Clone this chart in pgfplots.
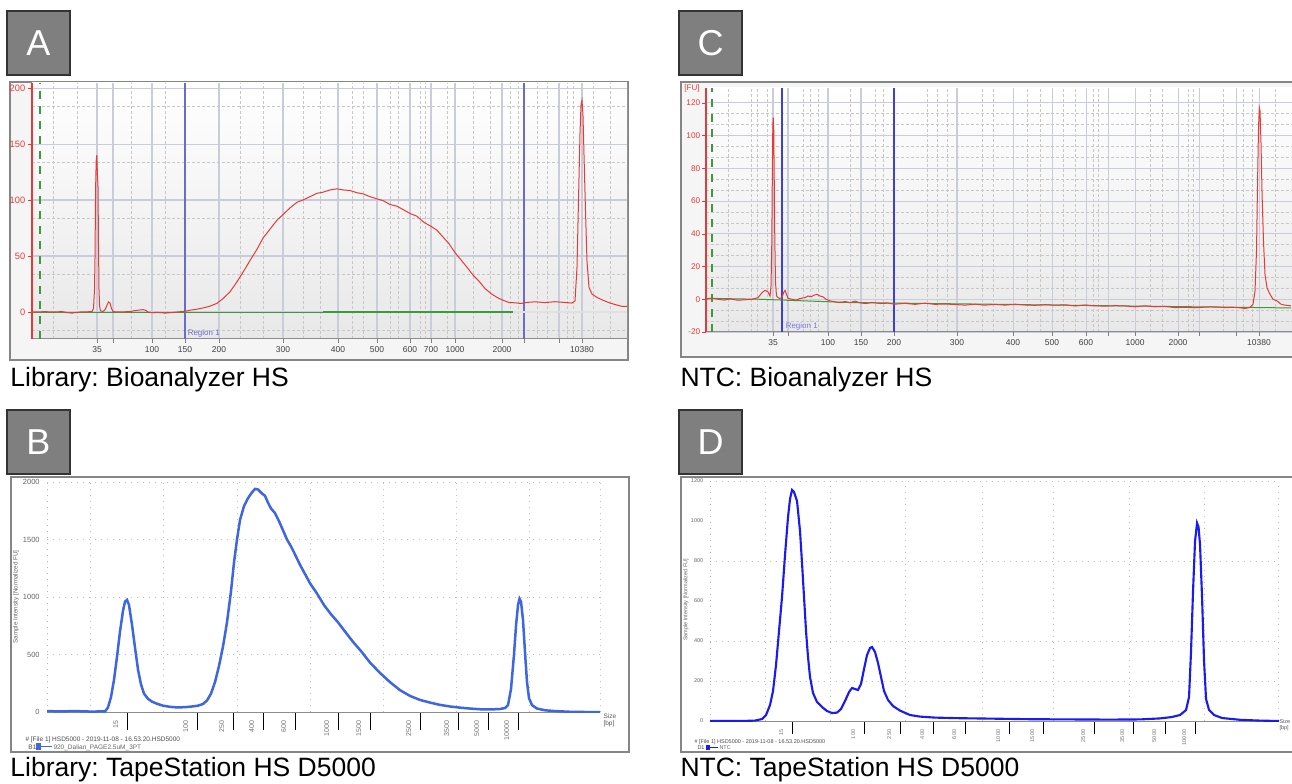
\documentclass[border=0pt]{standalone}
\usepackage{fontspec}
\setmainfont{Liberation Sans}
\usepackage{pgfplots}
\pgfplotsset{compat=1.18}
\frenchspacing

\definecolor{boxgray}{HTML}{7F7F7F}
\definecolor{framegray}{HTML}{858585}
\definecolor{bagrid}{HTML}{C9CDDA}
\definecolor{bared}{HTML}{E53A3A}
\definecolor{bagreen}{HTML}{3C9A3C}
\definecolor{regblueA}{HTML}{6B6BC8}
\definecolor{regblueC}{HTML}{3F3FD6}
\definecolor{tsblue}{HTML}{3D66E0}
\definecolor{tsblueD}{HTML}{1A1AF2}

\def\HH{783}

\pgfplotsset{
  % bioanalyzer look
  ba/.style={scale only axis, anchor=north west,
    axis background/.style={top color=white, bottom color=black!9},
    axis x line*=bottom, axis y line*=left,
    x axis line style={black!45}, y axis line style={bared, line width=0.5pt},
    grid=both, major grid style={bagrid, line width=0.42pt},
    minor grid style={black!22, dash pattern=on 1pt off 1pt, line width=0.3pt},
    tick align=outside, major tick length=1.6pt, minor tick length=0pt,
    every x tick/.style={black!50}, every y tick/.style={bared},
    xticklabel style={font=\fontsize{3.4}{4}\selectfont, text=black!75},
    yticklabel style={font=\fontsize{3.7}{4}\selectfont, text=bared},
    xticklabel shift=-2pt, yticklabel shift=-2.4pt,
    /pgf/number format/assume math mode=true,
    /pgf/number format/1000 sep={}},
  % tapestation look
  ts/.style={scale only axis, anchor=north west,
    axis x line*=bottom, axis y line*=left,
    x axis line style={black!45}, y axis line style={black!30, dotted},
    xminorgrids=true, ymajorgrids=false, xmajorgrids=false, yminorgrids=true,
    minor grid style={black!25, dotted, line width=0.35pt},
    tick align=outside, major tick length=7pt, minor tick length=0pt,
    every x tick/.style={black, line width=0.4pt}, every y tick/.style={draw=none},
    xticklabel style={font=\fontsize{2.8}{3}\selectfont, text=black!55, rotate=90, anchor=south east},
    xticklabel shift=-7pt, yticklabel shift=-7.6pt,
    yticklabel style={font=\fontsize{3}{3.5}\selectfont, text=black!60},
    /pgf/number format/assume math mode=true,
    /pgf/number format/1000 sep={}},
}

\begin{document}
\begin{tikzpicture}[x=0.4pt, y=0.4pt]
\useasboundingbox (0,0) rectangle (1292,783);

% panel frames
\draw[framegray, line width=0.9pt, fill=black!4] (10,\HH-82) rectangle (628,\HH-360);
\draw[framegray, line width=0.9pt, fill=black!4] (681,\HH-82) rectangle (1310,\HH-357);
\draw[framegray, line width=0.9pt, fill=white] (11,\HH-477) rectangle (629,\HH-752);
\draw[framegray, line width=0.9pt, fill=white] (681,\HH-477) rectangle (1310,\HH-752);

% letter boxes
\foreach \lx/\ly/\lt in {7/11/A, 679/11/C, 7/410/B, 679/410/D}{
  \draw[black!80, line width=0.5pt, fill=boxgray] (\lx,\HH-\ly) rectangle ++(63,-64);
  \node[text=white, font=\fontsize{14.4}{15}\selectfont] at (\lx+31.5,\HH-\ly-32) {\lt};
}

% titles
\node[anchor=base west, inner sep=0, font=\fontsize{10.6}{11}\selectfont] at (10,\HH-386) {Library: Bioanalyzer HS};
\node[anchor=base west, inner sep=0, font=\fontsize{10.6}{11}\selectfont] at (680,\HH-386) {NTC: Bioanalyzer HS};
\node[anchor=base west, inner sep=0, font=\fontsize{10.6}{11}\selectfont] at (10,\HH-776) {Library: TapeStation HS D5000};
\node[anchor=base west, inner sep=0, font=\fontsize{10.6}{11}\selectfont] at (680,\HH-776) {NTC: TapeStation HS D5000};

% ---------------- A ----------------
\begin{axis}[ba, at={(12.8pt,280pt)}, width=238pt, height=102.4pt,
  xmin=32, xmax=627, ymin=-24.1, ymax=204.5,
  xtick={97,113,152,185,219,283,338,377,410,431,455,502,524,559,582},
  xticklabels={35,,100,150,200,300,400,500,600,700,1000,2000,,,10380},
  minor xtick={53,77,131,165,240,263,303,320,352,363,390,398,420,425,447,473,490,510,518,537,547,567,573,593,610},
  ytick={0,50,100,150,200}, minor ytick={-16.7,33.3,83.3,133.3,183.3}]
\addplot[bagreen, dashed, line width=0.45pt] coordinates {(40,-24.1) (40,204.5)};
\addplot[regblueA, line width=0.6pt] coordinates {(185,-24.1) (185,204.5)};
\addplot[regblueA, line width=0.6pt] coordinates {(524,-24.1) (524,204.5)};
\addplot[bagreen, line width=0.35pt] coordinates {(32,0) (323,0)};
\addplot[bagreen, line width=0.9pt] coordinates {(323,0) (513,0)};
\addplot[black!12, line width=1pt] coordinates {(513,0) (627,0)};
\addplot[bared, line width=0.4pt] coordinates {
 (32,0) (45,0.3) (55,0) (62,0.4) (68,-0.6) (72,-1) (76,-0.4) (80,0) (88,0.2) (92,0.5)
 (93.5,3) (94.5,20) (95,48) (95.6,110) (96.2,135) (96.8,140) (97.4,124) (98,112) (98.5,60) (99,20) (99.6,5) (100.5,1)
 (103,0.5) (105,2) (107,6) (108.5,9) (110,8) (111.5,3) (113,0.5) (116,0) (125,0.2) (131,0.5) (134,1.2) (138,1.6)
 (143,2.1) (146,1.4) (148,0) (152,-0.6) (158,-0.3) (165,-1) (172,-0.4) (178,0.1) (185,0.6) (190,1.6) (196,2.4)
 (203,3.6) (210,5.2) (217,7.8) (223,12) (230,18) (237,27) (244,37) (250,46) (257,56) (263,66) (270,74) (277,82)
 (283,87) (290,93) (297,98) (303,100) (310,103) (317,106) (323,107) (330,109) (337,110) (343,109) (350,108.5)
 (357,106.5) (363,105.5) (370,103) (377,101) (383,99.5) (390,96) (397,94.5) (404,91) (410,88) (417,85.5) (424,80)
 (431,76.5) (437,73) (443,67) (449,61) (455,53) (461,46.5) (467,40) (473,33) (479,27.5) (485,21) (491,16.5)
 (497,13) (503,10.5) (509,8.5) (515,8.2) (521,7.6) (527,8.6) (535,9.1) (545,8.4) (555,9.2) (565,8.5) (572,8)
 (575,10) (577,40) (578.5,100) (580,160) (581,185) (582,189) (583,175) (584,140) (585.5,90) (587,45) (589,22)
 (592,16) (597,13) (603,10.5) (610,8) (617,6.2) (622,5) (627,5)};
\node[regblueA, anchor=west, font=\fontsize{3.2}{4}\selectfont, inner sep=0.5pt] at (axis cs:186,-19) {Region 1};
\end{axis}

% ---------------- C ----------------
\begin{axis}[ba, at={(282.4pt,278pt)}, width=234.4pt, height=97.6pt,
  xmin=706, xmax=1292, ymin=-20, ymax=129.1,
  xtick={773,788,828,861,894,957,1013,1052,1086,1108,1135,1178,1199,1236,1259},
  xticklabels={35,,100,150,200,300,400,500,600,,1000,2000,,,10380},
  minor xtick={728,751,757,767,803,810,818,850,875,883,927,937,947,982,993,1027,1040,1063,1075,1093,1098,1150,1162,1188,1193,1223,1243,1252,1275},
  ytick={-20,0,20,40,60,80,100,120}, minor y tick num=2,
  yticklabel style={font=\fontsize{3.3}{4}\selectfont}, yticklabel shift=-2.8pt]
\addplot[bagreen, dashed, line width=0.45pt] coordinates {(712,-20) (712,129.1)};
\addplot[regblueC, line width=0.6pt] coordinates {(782,-20) (782,129.1)};
\addplot[regblueC, line width=0.6pt] coordinates {(894,-20) (894,129.1)};
\addplot[bagreen, line width=0.4pt] coordinates {(706,0.6) (760,0) (850,-2) (1000,-3.1) (1100,-3.9) (1291,-5.3)};
\addplot[bared, line width=0.4pt] coordinates {
 (706,0) (712,0.6) (718,0) (724,-0.5) (730,0.2) (738,-0.6) (745,-0.3) (752,0) (758,1) (762,4) (765,5.5) (768,4.5)
 (770,2) (771,8) (771.8,35) (772.3,75) (772.8,106) (773.2,111) (773.7,105) (774.2,75) (774.8,36) (775.5,10)
 (776.5,2) (778,1) (780,0.5) (782,1) (783.5,4) (785,5.5) (786.5,3) (788,0.5) (792,0) (796,-0.5) (800,0.5) (805,1)
 (808,2) (811,1.5) (814,2.5) (817,3) (820,2) (823,1.5) (826,0) (830,-1) (835,-1.6) (840,-2) (845,-1.4) (850,-2.1)
 (855,-1.1) (860,-2.2) (866,-2.6) (872,-1.9) (880,-2.6) (888,-2.4) (895,-3) (905,-2.5) (915,-3.1) (925,-2.4)
 (935,-3.1) (945,-2.9) (955,-3.2) (965,-3.6) (975,-3) (985,-3.6) (995,-3.1) (1005,-3.6) (1015,-3) (1025,-3.5)
 (1035,-3.7) (1045,-3.3) (1055,-3.6) (1065,-3.4) (1075,-4.1) (1085,-3.5) (1095,-4) (1105,-4.2) (1115,-3.9)
 (1125,-4.1) (1135,-4.6) (1145,-4) (1155,-4.6) (1165,-4.4) (1175,-5.1) (1185,-4.9) (1195,-5.2) (1205,-4.8)
 (1215,-4.6) (1225,-5.1) (1235,-4.9) (1245,-5.6) (1250,-5) (1253,-3) (1255,5) (1256.5,30) (1257.5,70)
 (1258.5,105) (1259.3,117) (1260,115) (1261,95) (1262,65) (1263.5,35) (1265,15) (1267,7) (1270,3) (1273,0)
 (1277,-1) (1281,-3) (1285,-3.6) (1291,-4)};
\node[regblueC!70, anchor=west, font=\fontsize{3.2}{4}\selectfont, inner sep=0.5pt] at (axis cs:784,-16.5) {Region 1};
\end{axis}
\node[text=bared, font=\fontsize{3.2}{4}\selectfont, inner sep=0] at (692,\HH-88) {[FU]};

% ---------------- B ----------------
\begin{axis}[ts, at={(18.8pt,120.4pt)}, width=221.2pt, height=92pt,
  xmin=47, xmax=600, ymin=0, ymax=2000,
  xtick={127,197,233,263,295,338,370,420,458,488,518},
  xticklabels={15,100,250,400,600,1000,1500,2500,3500,5000,10000},
  minor xtick={90,163,237,310,383,456,529,600},
  ytick={0,500,1000,1500,2000}, minor ytick={500,1000,1500,2000}]
\addplot[tsblue, line width=1pt] coordinates {
 (47,8) (60,5) (75,8) (90,4) (105,5) (108,40) (111,130) (114,280) (117,480) (120,700) (123,880) (125,960)
 (127,975) (129,930) (132,760) (135,560) (138,370) (141,240) (144,160) (148,115) (152,90) (157,72) (163,55)
 (170,45) (177,40) (185,42) (192,48) (198,55) (203,70) (207,100) (211,160) (215,260) (219,400) (223,570)
 (227,780) (231,1050) (234,1300) (237,1500) (240,1670) (244,1790) (248,1860) (252,1910) (255,1940) (258,1935)
 (262,1900) (265,1880) (268,1820) (271,1770) (275,1730) (279,1660) (283,1580) (287,1500) (291,1440)
 (295,1370) (300,1280) (305,1200) (310,1120) (317,1030) (324,930) (331,850) (338,780) (345,700) (353,610)
 (361,530) (370,430) (380,340) (390,260) (400,190) (410,140) (420,105) (430,82) (440,62) (450,48) (460,38)
 (470,30) (480,24) (490,22) (500,26) (505,35) (508,60) (511,200) (514,500) (516,750) (518,930) (519.5,985)
 (521,960) (523,800) (525,520) (527,260) (529,120) (532,60) (537,30) (545,15) (555,8) (570,2) (585,0) (600,0)};
\end{axis}
\node[rotate=90, font=\fontsize{2.5}{3}\selectfont, text=black!60] at (16,\HH-597) {Sample Intensity [Normalized FU]};
\node[anchor=north west, align=left, inner sep=0, font=\fontsize{2.6}{3}\selectfont, text=black!65] at (603,\HH-713) {Size\\{[bp]}};
\node[anchor=base west, inner sep=0, font=\fontsize{2.6}{3}\selectfont, text=black!70] at (25,\HH-741) {\# [File 1] HSD5000 - 2019-11-08 - 16.53.20.HSD5000};
\node[anchor=base west, inner sep=0, font=\fontsize{2.6}{3}\selectfont, text=black!70] at (28,\HH-749) {B1};
\fill[tsblue] (36,\HH-743) rectangle (41,\HH-750);
\draw[tsblue, line width=0.5pt] (41,\HH-746.5) -- (52,\HH-746.5);
\node[anchor=base west, inner sep=0, font=\fontsize{2.6}{3}\selectfont, text=black!60] at (53,\HH-749) {920\_Dalian\_PAGE2.5uM\_3PT};

% ---------------- D ----------------
\begin{axis}[ts, at={(284pt,120.8pt)}, width=227.6pt, height=96pt,
  xmin=710, xmax=1279, ymin=0, ymax=1200,
  xtick={792,864,900,933,965,1009,1043,1094,1133,1165,1195},
  xticklabels={15,100,250,400,600,1000,1500,2500,3500,5000,10000},
  minor xtick={765,830,905,982,1053,1129,1204,1278},
  ytick={0,200,400,600,800,1000,1200}, minor ytick={200,400,800,1200},
  xticklabel style={font=\fontsize{2.2}{2.5}\selectfont}, major tick length=5pt, xticklabel shift=-5pt,
  yticklabel shift=-5.8pt, yticklabel style={font=\fontsize{2.2}{2.5}\selectfont}]
\addplot[tsblueD, line width=0.85pt] coordinates {
 (710,0) (740,0) (755,2) (762,10) (766,30) (770,80) (773,150) (776,280) (779,450) (782,620) (785,830)
 (788,1020) (790,1110) (792,1155) (794,1145) (797,1100) (800,950) (802,790) (804,620) (806,450) (808,320)
 (810,220) (813,140) (817,95) (822,70) (827,50) (832,40) (837,42) (841,60) (845,100) (849,145) (852,165)
 (855,160) (858,155) (861,185) (864,260) (867,330) (870,365) (872,370) (875,345) (878,290) (881,220) (884,150)
 (888,105) (893,75) (900,52) (910,30) (920,22) (935,17) (960,14) (990,12) (1030,9) (1070,8) (1110,7) (1140,8)
 (1160,13) (1172,20) (1180,30) (1186,55) (1189,120) (1191,350) (1193,650) (1195,900) (1197,990) (1198.5,970)
 (1200,880) (1202,620) (1204,300) (1206,110) (1209,55) (1214,30) (1222,15) (1240,6) (1260,2) (1279,0)};
\end{axis}
\node[rotate=90, font=\fontsize{2.2}{3}\selectfont, text=black!60] at (686,\HH-600) {Sample Intensity [Normalized FU]};
\node[anchor=north west, align=left, inner sep=0, font=\fontsize{2.2}{2.5}\selectfont, text=black!65] at (1279,\HH-719) {Size\\{[bp]}};
\node[anchor=base west, inner sep=0, font=\fontsize{2.2}{3}\selectfont, text=black!70] at (694,\HH-743) {\# [File 1] HSD5000 - 2019-11-08 - 16.53.20.HSD5000};
\node[anchor=base west, inner sep=0, font=\fontsize{2.2}{3}\selectfont, text=black!70] at (697,\HH-749) {D1};
\fill[tsblueD] (706,\HH-745) rectangle (710,\HH-750);
\draw[tsblueD, line width=0.5pt] (710,\HH-747.5) -- (718,\HH-747.5);
\node[anchor=base west, inner sep=0, font=\fontsize{2.2}{3}\selectfont, text=black!60] at (719,\HH-749) {NTC};
\end{tikzpicture}
\end{document}
